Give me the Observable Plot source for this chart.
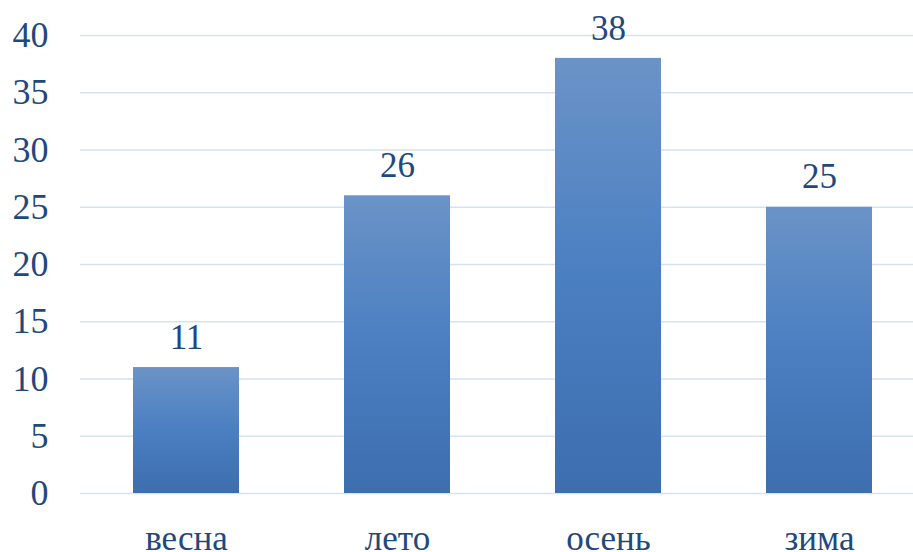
<!DOCTYPE html>
<html>
<head>
<meta charset="utf-8">
<script src="https://cdn.jsdelivr.net/npm/d3@7"></script>
<script src="https://cdn.jsdelivr.net/npm/@observablehq/plot@0.6"></script>
<style>
  html, body { margin: 0; padding: 0; background: #fff; }
  #chart svg { display: block; }
</style>
</head>
<body>
<div id="chart"></div>
<script>
const seasons = ["весна", "лето", "осень", "зима"];
const values = [11, 26, 38, 25];
const yTicks = [0, 5, 10, 15, 20, 25, 30, 35, 40];

const data = seasons.map((s, i) => ({season: s, value: values[i]}));
const textColor = "#1f497d";
const font = "Liberation Serif";

const chart = Plot.plot({
  width: 913,
  height: 552,
  marginTop: 0,
  marginLeft: 80,
  marginRight: 0,
  marginBottom: 59,
  style: {fontFamily: font, fontSize: "35px"},
  x: {domain: seasons, range: [80.5, 924.5], paddingInner: 0.5, paddingOuter: 0.25},
  y: {domain: [0, 40], range: [493, 35]},
  marks: [
    () => {
      const ns = "http://www.w3.org/2000/svg";
      const defs = document.createElementNS(ns, "defs");
      defs.innerHTML = `<linearGradient id="barGrad" x1="0" y1="0" x2="0" y2="1">
        <stop offset="0%" stop-color="#6b93c7"/>
        <stop offset="50%" stop-color="#4a7fc2"/>
        <stop offset="100%" stop-color="#3d6eae"/>
      </linearGradient>`;
      return defs;
    },
    Plot.ruleY(yTicks, {stroke: "#d6e1f1", strokeWidth: 1.6}),
    Plot.barY(data, {x: "season", y: "value", fill: "url(#barGrad)"}),
    Plot.text(data, {x: "season", y: "value", text: "value", dy: -30,
      fontSize: 35, fontFamily: font, fill: textColor, lineAnchor: "middle"}),
    Plot.axisY(yTicks, {tickSize: 0, tickPadding: 32, fontSize: 36, fontFamily: font, fill: textColor, label: null}),
    Plot.axisX({tickSize: 0, tickPadding: 32, fontSize: 35, fontFamily: font, fill: textColor, label: null})
  ]
});
document.getElementById("chart").appendChild(chart);
</script>
</body>
</html>
